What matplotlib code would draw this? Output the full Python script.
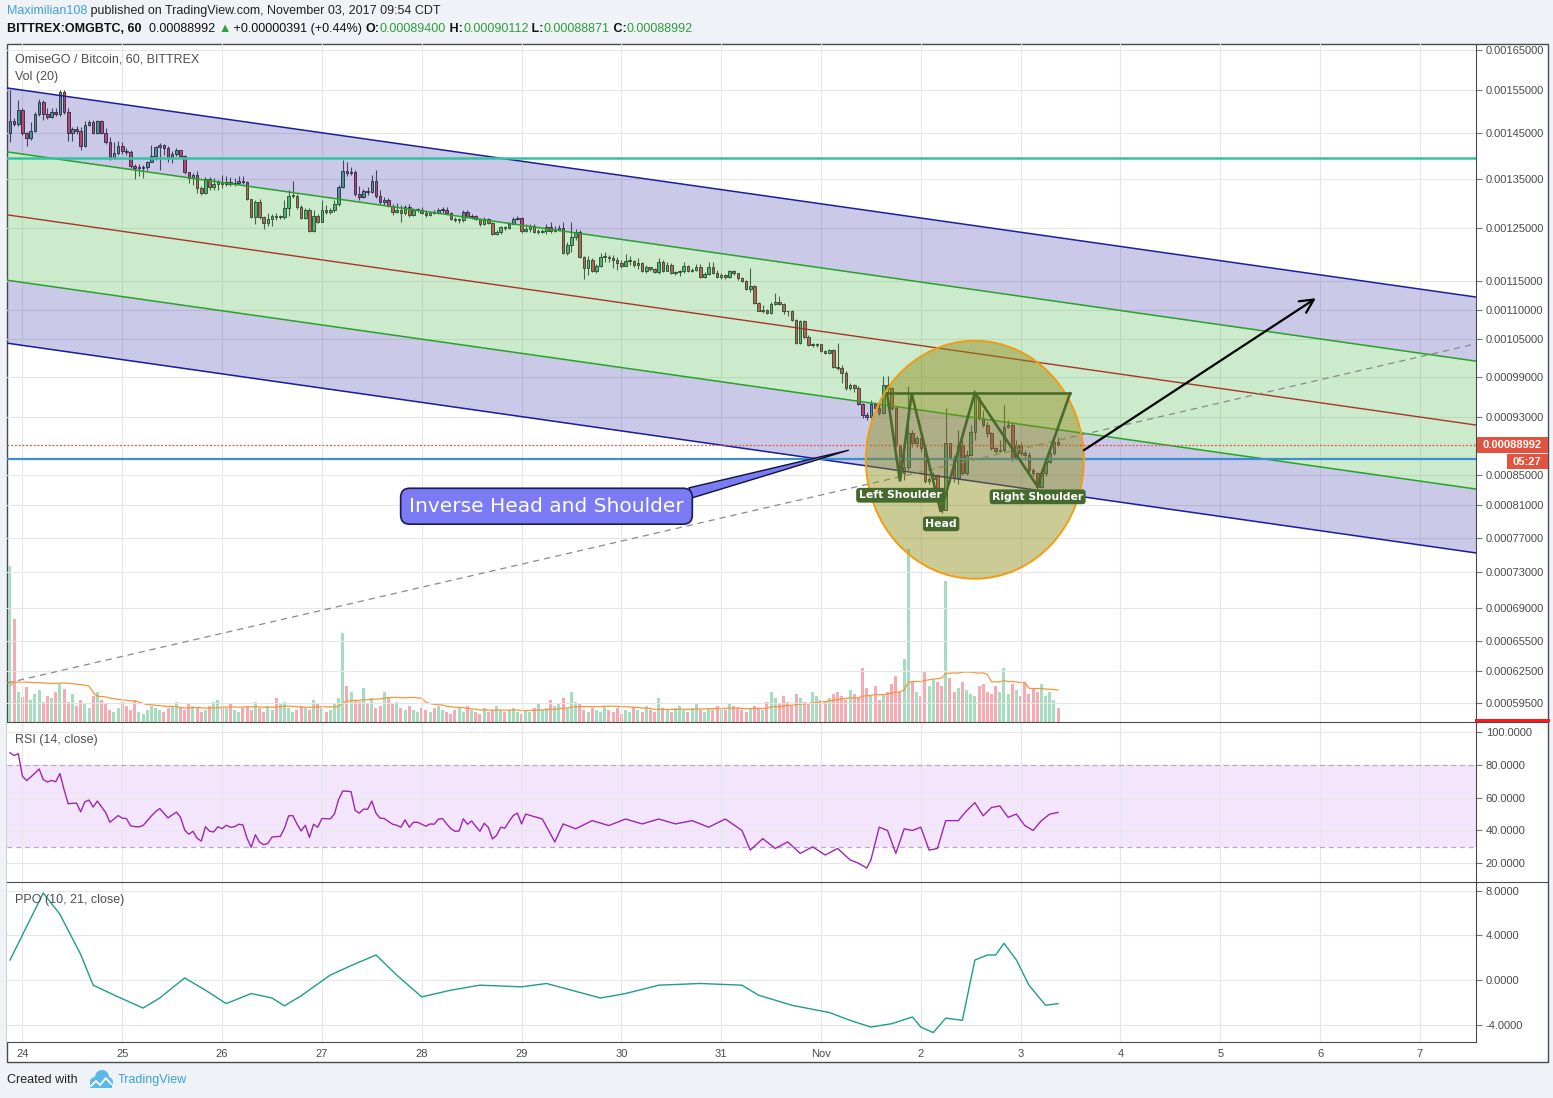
"""OMG/BTC 1h chart (TradingView snapshot, 3 Nov 2017) with an inverse head and shoulders idea."""
import matplotlib
matplotlib.use("Agg")
import matplotlib.pyplot as plt  # noqa: E402
import numpy as np
import pandas as pd
from matplotlib.lines import Line2D
from matplotlib.patches import Ellipse, Rectangle

W, H, DPI = 1553, 1098, 100
U = 1e-6  # prices below are written in micro-BTC

# ---- candles: one per hour, hours counted from Oct 24 00:00 -------------------
FIRST_HOUR = -3
OPEN0 = 1450
CLOSE = [1478, 1471, 1503, 1450, 1439, 1455, 1494, 1522, 1494, 1487, 1498, 1494, 1546,
         1498, 1450, 1459, 1455, 1421, 1468, 1475, 1450, 1478, 1450,
         1430, 1394, 1405, 1421, 1410, 1408, 1377, 1373, 1373, 1375,
         1386, 1399, 1419, 1423, 1416, 1394, 1403, 1412, 1399, 1365,
         1351, 1358, 1331, 1321, 1349, 1333, 1339, 1343, 1339, 1343,
         1339, 1341, 1345, 1343, 1308, 1272, 1302, 1272, 1260, 1268,
         1274, 1272, 1272, 1290, 1314, 1314, 1292, 1270, 1286, 1244,
         1274, 1262, 1286, 1282, 1286, 1298, 1333, 1367, 1362, 1365,
         1318, 1312, 1325, 1323, 1345, 1314, 1302, 1306, 1294, 1282,
         1286, 1280, 1292, 1276, 1286, 1286, 1280, 1276, 1282, 1280,
         1286, 1286, 1280, 1268, 1266, 1266, 1282, 1272, 1274, 1268,
         1258, 1268, 1260, 1238, 1242, 1252, 1250, 1258, 1268, 1270,
         1244, 1248, 1254, 1242, 1242, 1244, 1252, 1244, 1246, 1250,
         1202, 1218, 1233, 1242, 1195, 1174, 1189, 1168, 1178, 1195,
         1195, 1193, 1189, 1183, 1178, 1187, 1187, 1180, 1183, 1168,
         1176, 1172, 1166, 1185, 1168, 1180, 1165, 1166, 1168, 1178,
         1168, 1170, 1176, 1157, 1163, 1176, 1165, 1157, 1161, 1157,
         1168, 1165, 1156, 1150, 1136, 1141, 1112, 1098, 1100, 1095,
         1110, 1114, 1110, 1098, 1097, 1083, 1044, 1080, 1054, 1041,
         1041, 1043, 1031, 1028, 1033, 1006, 1004, 997, 973, 978,
         973, 949, 933, 930, 949, 943, 936, 978, 973, 944,
         890, 852, 860, 907, 893, 900, 886, 842, 844, 849,
         833, 804, 893, 873, 846, 890, 852, 876, 908, 958,
         929, 918, 907, 886, 882, 884, 915, 918, 871, 890,
         879, 876, 856, 852, 834, 852, 867, 879, 894, 889.92]
HIGH = [1551, 1485, 1527, 1508, 1452, 1475, 1498, 1529, 1527, 1508, 1508, 1508, 1551,
        1551, 1508, 1464, 1466, 1464, 1478, 1480, 1480, 1480, 1480,
        1462, 1441, 1430, 1432, 1430, 1416, 1412, 1382, 1382, 1380,
        1388, 1423, 1421, 1428, 1425, 1421, 1410, 1416, 1412, 1401,
        1365, 1362, 1367, 1335, 1353, 1353, 1351, 1347, 1358, 1356,
        1353, 1351, 1356, 1356, 1345, 1308, 1306, 1308, 1274, 1280,
        1278, 1280, 1276, 1306, 1327, 1345, 1318, 1296, 1290, 1290,
        1286, 1278, 1306, 1296, 1290, 1306, 1337, 1390, 1386, 1375,
        1369, 1335, 1329, 1333, 1358, 1369, 1327, 1312, 1310, 1298,
        1300, 1296, 1296, 1298, 1290, 1290, 1292, 1286, 1284, 1286,
        1290, 1292, 1292, 1282, 1272, 1270, 1286, 1286, 1278, 1276,
        1270, 1272, 1270, 1262, 1246, 1254, 1254, 1262, 1272, 1274,
        1272, 1258, 1258, 1258, 1248, 1248, 1258, 1262, 1254, 1256,
        1262, 1222, 1262, 1248, 1246, 1197, 1197, 1193, 1181, 1202,
        1204, 1199, 1199, 1195, 1189, 1200, 1197, 1189, 1193, 1185,
        1180, 1176, 1174, 1193, 1189, 1185, 1183, 1168, 1170, 1185,
        1180, 1174, 1181, 1181, 1166, 1185, 1185, 1170, 1165, 1163,
        1170, 1170, 1165, 1157, 1152, 1174, 1143, 1114, 1108, 1102,
        1114, 1129, 1124, 1112, 1098, 1099, 1085, 1083, 1083, 1057,
        1044, 1044, 1043, 1033, 1035, 1035, 1044, 1009, 999, 981,
        980, 976, 951, 937, 955, 952, 949, 992, 991, 975,
        946, 891, 897, 976, 911, 903, 903, 888, 848, 853,
        851, 834, 943, 893, 876, 911, 897, 883, 918, 967,
        961, 940, 923, 908, 888, 897, 948, 926, 923, 897,
        894, 883, 880, 859, 853, 856, 870, 886, 896, 901.12]
LOW = [1430, 1466, 1466, 1446, 1421, 1434, 1452, 1489, 1480, 1482, 1485, 1489, 1489,
       1494, 1432, 1432, 1448, 1412, 1419, 1466, 1448, 1448, 1448,
       1425, 1390, 1392, 1401, 1403, 1401, 1373, 1349, 1356, 1351,
       1369, 1386, 1390, 1369, 1401, 1386, 1384, 1399, 1394, 1360,
       1341, 1337, 1321, 1316, 1319, 1327, 1327, 1327, 1331, 1335,
       1335, 1335, 1339, 1339, 1306, 1270, 1258, 1268, 1248, 1254,
       1254, 1266, 1268, 1268, 1274, 1310, 1288, 1268, 1268, 1242,
       1242, 1260, 1262, 1278, 1278, 1282, 1294, 1331, 1356, 1358,
       1314, 1306, 1310, 1316, 1321, 1310, 1298, 1296, 1292, 1276,
       1280, 1262, 1276, 1272, 1274, 1282, 1278, 1272, 1274, 1278,
       1278, 1280, 1278, 1266, 1262, 1260, 1262, 1270, 1268, 1266,
       1254, 1256, 1258, 1237, 1237, 1238, 1246, 1248, 1256, 1266,
       1240, 1242, 1242, 1240, 1238, 1240, 1238, 1240, 1242, 1244,
       1200, 1198, 1204, 1227, 1193, 1154, 1161, 1166, 1165, 1176,
       1185, 1185, 1174, 1170, 1174, 1178, 1180, 1176, 1172, 1166,
       1165, 1168, 1165, 1163, 1166, 1168, 1163, 1161, 1159, 1165,
       1166, 1166, 1168, 1156, 1156, 1161, 1163, 1156, 1154, 1154,
       1156, 1161, 1152, 1148, 1134, 1131, 1110, 1097, 1095, 1093,
       1093, 1109, 1109, 1093, 1090, 1081, 1043, 1043, 1052, 1039,
       1038, 1038, 1030, 1027, 1027, 1004, 1001, 981, 970, 970,
       967, 948, 929, 926, 929, 940, 933, 934, 967, 940,
       887, 846, 843, 856, 888, 888, 880, 839, 838, 842,
       830, 800, 804, 870, 840, 838, 849, 849, 875, 897,
       926, 915, 902, 883, 879, 880, 880, 914, 868, 870,
       875, 870, 853, 848, 831, 833, 848, 866, 876, 888.71]
VOLUME = [156, 103, 30, 25, 35, 22, 28, 32, 20, 26,
          24, 30, 38, 33, 20, 28, 16, 22, 18, 14,
          26, 30, 22, 18, 12, 10, 14, 20, 16, 12,
          22, 10, 8, 12, 16, 14, 12, 10, 14, 16,
          20, 14, 12, 18, 16, 14, 10, 12, 16, 20,
          22, 16, 14, 18, 12, 10, 14, 16, 12, 20,
          14, 10, 16, 12, 24, 18, 20, 14, 10, 12,
          16, 14, 12, 22, 18, 14, 10, 12, 18, 24,
          89, 36, 30, 22, 20, 34, 18, 24, 14, 16,
          30, 24, 18, 20, 14, 12, 16, 12, 10, 14,
          12, 10, 14, 16, 12, 10, 8, 12, 14, 10,
          16, 12, 10, 8, 14, 10, 12, 16, 12, 10,
          12, 14, 10, 8, 12, 10, 14, 18, 12, 14,
          22, 16, 18, 24, 14, 30, 20, 18, 12, 10,
          14, 12, 10, 16, 12, 10, 14, 8, 12, 10,
          14, 12, 10, 16, 12, 10, 24, 14, 12, 10,
          14, 16, 12, 10, 14, 18, 12, 10, 14, 12,
          16, 14, 12, 18, 16, 14, 12, 10, 14, 16,
          14, 12, 20, 30, 24, 18, 26, 20, 16, 28,
          24, 20, 18, 30, 26, 22, 20, 24, 28, 30,
          26, 22, 32, 28, 24, 54, 34, 26, 36, 22,
          28, 30, 38, 46, 30, 63, 173, 40, 30, 26,
          50, 36, 42, 40, 36, 141, 44, 30, 34, 40,
          32, 28, 26, 36, 38, 30, 28, 36, 30, 54,
          28, 38, 32, 26, 40, 28, 34, 30, 38, 26,
          30, 22, 14]
VOL_PRIOR_AVG = 30  # mean hourly volume before the first bar (left end of the MA line)

# ---- indicators, read at candle index (0 = first candle) ----------------------
RSI_BARS = list(range(124)) + [124, 128, 131, 133, 136, 140, 144, 148, 152, 156, 160, 164,
                               168, 172, 176, 178, 181, 184, 187, 190, 193, 196, 199, 202,
                               204, 206, 207, 209, 211, 213, 215, 217, 219, 221, 223, 225,
                               228, 230, 232, 234, 236, 238, 240, 242, 244, 246, 248, 250, 252]
RSI_VALS = [87.5, 85.8, 86.9, 73.1, 70.5, 72.7, 75.0, 77.6, 71.1, 69.6,
            70.6, 69.8, 74.8, 65.0, 56.3, 56.6, 56.7, 51.4, 57.5, 58.6,
            54.3, 58.0, 54.5, 51.0, 45.0, 47.0, 49.1, 47.5, 47.3, 42.8,
            42.4, 42.2, 43.0, 46.0, 48.9, 51.5, 53.4, 50.5, 47.7, 49.5,
            51.2, 48.1, 40.3, 37.7, 39.5, 35.2, 33.5, 42.3, 39.5, 39.1,
            42.3, 41.1, 43.2, 42.0, 42.3, 43.8, 43.4, 35.2, 29.7, 37.4,
            32.9, 31.3, 32.1, 36.0, 36.2, 36.4, 41.4, 48.9, 49.1, 44.0,
            39.7, 43.2, 35.8, 43.8, 42.0, 47.3, 47.2, 47.1, 50.0, 58.8,
            64.1, 64.0, 63.7, 52.2, 50.6, 53.0, 53.0, 58.0, 50.6, 47.5,
            47.3, 45.5, 43.8, 43.2, 42.0, 46.5, 42.0, 45.0, 45.0, 43.8,
            42.6, 44.0, 43.8, 46.9, 47.3, 44.0, 41.1, 39.5, 39.7, 47.1,
            43.8, 45.8, 42.5, 39.5, 44.4, 42.0, 34.8, 37.0, 42.0, 41.4,
            45.5, 49.1, 50.6, 44.0,
            50, 47, 33, 44, 41, 46, 43, 47, 44, 47, 44, 46,
            42, 47, 40, 28, 35, 29, 33, 26, 30, 25, 29, 22,
            20, 17, 22, 42, 40, 26, 41, 40, 42, 28, 29, 46,
            46, 52, 57, 49, 54, 55, 48, 50, 43, 40, 46, 50, 51]
PPO_BARS = [0, 8, 12, 17, 20, 26, 32, 36, 42, 47, 52, 58, 63, 66, 70, 77, 82, 88, 93, 99,
            106, 113, 123, 129, 135, 142, 148, 156, 166, 176, 180, 188, 197, 202, 207,
            212, 217, 219, 222, 225, 229, 232, 235, 237, 239, 242, 245, 249, 252]
PPO_VALS = [1.8, 7.8, 5.9, 2.3, -0.45, -1.5, -2.5, -1.6, 0.2, -0.9, -2.1, -1.2, -1.6, -2.3,
            -1.4, 0.45, 1.3, 2.25, 0.45, -1.5, -0.9, -0.45, -0.6, -0.3, -0.9, -1.6, -1.2,
            -0.45, -0.3, -0.45, -1.35, -2.25, -2.9, -3.6, -4.2, -3.9, -3.3, -4.2, -4.7,
            -3.4, -3.6, 1.8, 2.25, 2.25, 3.3, 1.8, -0.45, -2.25, -2.1]

DAY_HOURS = list(range(0, 337, 24))
DAY_LABELS = ["24", "25", "26", "27", "28", "29", "30", "31", "Nov", "2", "3", "4", "5", "6", "7"]
PRICE_TICKS = [0.00165, 0.00155, 0.00145, 0.00135, 0.00125, 0.00115, 0.0011, 0.00105,
               0.00099, 0.00093, 0.00085, 0.00081, 0.00077, 0.00073, 0.00069,
               0.000655, 0.000625, 0.000595]
RSI_TICKS = [100, 80, 60, 40, 20]
PPO_TICKS = [8, 4, 0, -4]

# ---- drawings on the chart: (hour, micro-BTC) ----------------------------------
X_RANGE = (-3.72, 349.5)
CHAN_BLUE = [(1556, 1122), (1044, 752)]
CHAN_GREEN = [(1408, 1015), (1152, 831)]
CHAN_MID = (1276, 918.5)
RESIST = 1394.5
SUPPORT = 870.9
DASH_TREND = (613.6, 1043)
PATTERN_HOURS = [207.9, 211.0, 213.8, 220.8, 229.0, 244.0, 251.9]
PATTERN_PRICES = [965, 841, 965, 802, 966, 835, 965]
PATTERN_LABELS = [("Left Shoulder", 211.0, 823), ("Head", 220.9, 787),
                  ("Right Shoulder", 244.1, 821)]
CALLOUT_TEXT = (126.0, 809)
CALLOUT_BASE = (160.6, 826)
CALLOUT_TIP = (198.6, 883)
ARROW = [(255.2, 883), (311.0, 1120)]
CIRCLE_C = (229.0, 870)
CIRCLE_RX_H = 26.2       # hours
CIRCLE_RY_FRAC = 0.1755  # fraction of the price panel height

SANS = ["Liberation Sans", "DejaVu Sans"]
plt.rcParams["font.family"] = SANS
GRID = "#e6e6e6"
AXTXT = "#4a4a4a"
GREEN_TXT = "#2e9e3e"
HDR = 9.0


def frect(x0, y0, x1, y1):
    return [x0 / W, 1 - y1 / H, (x1 - x0) / W, (y1 - y0) / H]


def fline(x0, y0, x1, y1, **kw):
    fig.add_artist(Line2D([x0 / W, x1 / W], [1 - y0 / H, 1 - y1 / H],
                          transform=fig.transFigure, **kw))


def text_run(x, y, parts, size, family=SANS):
    r = fig.canvas.get_renderer()
    for s, color, weight in parts:
        t = fig.text(x / W, 1 - y / H, s, color=color, fontsize=size, fontweight=weight,
                     family=family, va="center", ha="left")
        x += t.get_window_extent(renderer=r).width
    return x


fig = plt.figure(figsize=(W / DPI, H / DPI), dpi=DPI, facecolor="#eff2f6")
fig.add_artist(Rectangle((7 / W, 1 - 1062 / H), 1541 / W, 1018 / H, transform=fig.transFigure,
                         facecolor="white", edgecolor="#4a4a4a", lw=1, zorder=-5))

axv = fig.add_axes(frect(7, 44, 1476, 722))
ax = fig.add_axes(frect(7, 44, 1476, 722), sharex=axv)
ar = fig.add_axes(frect(7, 722, 1476, 882), sharex=axv)
ap = fig.add_axes(frect(7, 882, 1476, 1042), sharex=axv)
ax.patch.set_alpha(0)
axv.patch.set_alpha(0)

xs = np.arange(len(CLOSE)) + FIRST_HOUR
c = np.array(CLOSE, float) * U
o = np.r_[OPEN0, CLOSE[:-1]].astype(float) * U
hi = np.maximum(np.array(HIGH, float) * U, np.maximum(o, c))
lo = np.minimum(np.array(LOW, float) * U, np.minimum(o, c))
up = c >= o

# volume (own scale, behind the price)
axv.bar(xs, VOLUME, width=0.72, color=np.where(up, "#a6dcc0", "#f6aab2"), linewidth=0)
vol_hist = pd.Series([VOL_PRIOR_AVG] * 19 + VOLUME, dtype=float)
vma = vol_hist.rolling(20).mean().to_numpy()[19:]
axv.plot(xs, vma, color="#f7953a", lw=0.9)
axv.set_ylim(0, max(VOLUME) / 0.255)
axv.set_yticks([])

# price
ax.set_yscale("log")
ax.set_xlim(*X_RANGE)
ax.set_ylim(577.3 * U, 1666.7 * U)
ax.vlines(xs, lo, hi, color="#4d4d4d", lw=0.8, zorder=1)
body_lo = np.minimum(o, c)
body_h = np.maximum(np.abs(c - o), body_lo * 0.0012)
ax.bar(xs, body_h, bottom=body_lo, width=0.62, color=np.where(up, "#53b987", "#eb4d5c"),
       edgecolor="#262626", linewidth=0.6, zorder=1.2)

hx = list(X_RANGE)
blue_top, blue_bot = [np.array(v) * U for v in CHAN_BLUE]
green_top, green_bot = [np.array(v) * U for v in CHAN_GREEN]
ax.fill_between(hx, blue_top, green_top, color="#2f2fa7", alpha=0.25, lw=0, zorder=2)
ax.fill_between(hx, green_top, green_bot, color="#37af37", alpha=0.25, lw=0, zorder=2)
ax.fill_between(hx, green_bot, blue_bot, color="#2f2fa7", alpha=0.25, lw=0, zorder=2)
for line in (blue_top, blue_bot):
    ax.plot(hx, line, color="#1c1c9c", lw=1.1, zorder=3)
for line in (green_top, green_bot):
    ax.plot(hx, line, color="#27a327", lw=1.1, zorder=3)
ax.plot(hx, np.array(CHAN_MID) * U, color="#a8352b", lw=1.0, zorder=3)
ax.axhline(RESIST * U, color="#33c3a0", lw=1.8, zorder=3)
ax.axhline(SUPPORT * U, color="#3a8fd0", lw=1.6, zorder=3)
ax.axhline(c[-1], color="#e0533f", lw=0.9, ls=(0, (1.5, 1.5)), zorder=3)
ax.plot(hx, np.array(DASH_TREND) * U, color="#8a8a8a", lw=0.9, ls=(0, (5, 4)), zorder=3)

# pattern circle (screen-space ellipse anchored on the data centre)
cx, cy = ax.transAxes.inverted().transform(ax.transData.transform((CIRCLE_C[0], CIRCLE_C[1] * U)))
span = X_RANGE[1] - X_RANGE[0]
ax.add_patch(Ellipse((cx, cy), 2 * CIRCLE_RX_H / span, 2 * CIRCLE_RY_FRAC, transform=ax.transAxes,
                     facecolor="#8c8c14", alpha=0.45, edgecolor="none", zorder=4))
ax.add_patch(Ellipse((cx, cy), 2 * CIRCLE_RX_H / span, 2 * CIRCLE_RY_FRAC, transform=ax.transAxes,
                     facecolor="none", edgecolor="#f39c12", lw=1.4, zorder=4.1))
pp = np.array(PATTERN_PRICES) * U
ax.plot(PATTERN_HOURS, pp, color="#4a6b2c", lw=1.9, zorder=5, solid_joinstyle="miter")
ax.plot([PATTERN_HOURS[0], PATTERN_HOURS[-1]], [pp[0], pp[-1]], color="#4a6b2c", lw=1.9, zorder=5)
for s, hh, pr in PATTERN_LABELS:
    ax.text(hh, pr * U, s, color="white", fontsize=7.8, fontweight="bold", family="DejaVu Sans",
            ha="center", va="center", zorder=6,
            bbox=dict(boxstyle="round,pad=0.22,rounding_size=0.3", fc="#456a2e", ec="none"))

ax.annotate("", xy=(CALLOUT_TIP[0], CALLOUT_TIP[1] * U), xytext=(CALLOUT_BASE[0], CALLOUT_BASE[1] * U),
            arrowprops=dict(arrowstyle="wedge,tail_width=0.42,shrink_factor=0.5",
                            fc="#7b7bf5", ec="#111133", lw=1.0, mutation_scale=18,
                            shrinkA=0, shrinkB=0), zorder=6)
ax.text(CALLOUT_TEXT[0], CALLOUT_TEXT[1] * U, "Inverse Head and Shoulder", color="white",
        fontsize=14.5, family="DejaVu Sans", ha="center", va="center", zorder=7,
        bbox=dict(boxstyle="round,pad=0.42,rounding_size=0.45", fc="#7b7bf5", ec="#1b1b55", lw=1.2))
ax.annotate("", xy=(ARROW[1][0], ARROW[1][1] * U), xytext=(ARROW[0][0], ARROW[0][1] * U),
            arrowprops=dict(arrowstyle="->,head_length=0.7,head_width=0.35", color="black",
                            lw=1.6, shrinkA=0, shrinkB=0, mutation_scale=14), zorder=6)

# RSI
ar.set_ylim(8.5, 106.3)
ar.axhspan(30, 80, color="#f3e6fc", lw=0, zorder=0)
for lv in (80, 30):
    ar.axhline(lv, color="#b9a7c6", lw=0.9, ls=(0, (4, 3)), zorder=1)
ar.plot(np.array(RSI_BARS) + FIRST_HOUR, RSI_VALS, color="#9c27b0", lw=1.0, zorder=3)

# PPO
ap.set_ylim(-5.54, 8.79)
ap.plot(np.array(PPO_BARS) + FIRST_HOUR, PPO_VALS, color="#1e9e8a", lw=1.0, zorder=3)

# axes cosmetics
ax.set_yticks(PRICE_TICKS, [f"{v:.8f}" for v in PRICE_TICKS])
ax.yaxis.set_minor_locator(matplotlib.ticker.NullLocator())
ar.set_yticks(RSI_TICKS, [f"{v:.4f}" for v in RSI_TICKS])
ap.set_yticks(PPO_TICKS, [f"{v:.4f}" for v in PPO_TICKS])
ap.set_xticks(DAY_HOURS, DAY_LABELS)
for a in (axv, ax, ar, ap):
    for sp in a.spines.values():
        sp.set_visible(False)
for a in (ax, ar, ap):
    a.set_axisbelow(True)
    a.grid(True, color=GRID, lw=0.8)
    a.yaxis.tick_right()
    a.tick_params(axis="y", length=4, width=0.8, color="#777777", pad=3,
                  labelsize=8, labelcolor=AXTXT)
    a.tick_params(axis="x", length=0, pad=5, labelsize=8, labelcolor=AXTXT,
                  labelbottom=(a is ap))
axv.tick_params(axis="both", length=0, labelbottom=False, labelleft=False)

# panel frame lines
for y in (722, 882):
    fline(7, y, 1548, y, color="#4a4a4a", lw=0.8, zorder=10)
fline(7, 1042, 1476, 1042, color="#4a4a4a", lw=0.8, zorder=10)
fline(1476, 44, 1476, 1042, color="#4a4a4a", lw=0.8, zorder=10)
fline(1476, 720, 1548, 720, color="#ff1a1a", lw=2.2, zorder=11)

# last price tag on the scale
yd = H - ax.transData.transform((0, c[-1]))[1]
fig.add_artist(Rectangle((1477 / W, 1 - (yd + 8) / H), 71 / W, 16 / H, transform=fig.transFigure,
                         fc="#e2533f", ec="none", zorder=12))
fig.text(1512 / W, 1 - yd / H, f"{c[-1]:.8f}", color="white", fontsize=8,
         fontweight="bold", ha="center", va="center", zorder=13)
fig.add_artist(Rectangle((1507 / W, 1 - (yd + 24) / H), 41 / W, 15 / H, transform=fig.transFigure,
                         fc="#e2533f", ec="none", zorder=12))
fig.text(1527 / W, 1 - (yd + 16.5) / H, "05:27", color="white", fontsize=8, fontweight="bold",
         ha="center", va="center", zorder=13)

# legends inside panels
for y, s in ((60, "OmiseGO / Bitcoin, 60, BITTREX"), (77, "Vol (20)"),
             (740, "RSI (14, close)"), (900, "PPO (10, 21, close)")):
    fig.text(15 / W, 1 - y / H, s, color="#4f4f4f", fontsize=HDR,
             va="center", ha="left", zorder=14)

# header
text_run(7, 11, [("Maximilian108", "#3ea0db", "normal"),
                 (" published on TradingView.com, November 03, 2017 09:54 CDT", "#222222", "normal")], HDR)
text_run(7, 29, [("BITTREX:OMGBTC, 60", "#111111", "bold"), ("  0.00088992 ", "#111111", "normal"),
                 ("\u25b2", GREEN_TXT, "normal"), (" +0.00000391 (+0.44%) ", "#111111", "normal"),
                 ("O:", "#111111", "bold"), ("0.00089400", GREEN_TXT, "normal"),
                 (" H:", "#111111", "bold"), ("0.00090112", GREEN_TXT, "normal"),
                 (" L:", "#111111", "bold"), ("0.00088871", GREEN_TXT, "normal"),
                 (" C:", "#111111", "bold"), ("0.00088992", GREEN_TXT, "normal")], HDR)

# footer
text_run(7, 1080, [("Created with", "#222222", "normal")], HDR)
for (ex, ey, r) in ((95, 1082, 5), (102, 1077, 7), (108, 1082, 5)):
    fig.add_artist(Ellipse((ex / W, 1 - ey / H), 2 * r / W, 2 * r / H, transform=fig.transFigure,
                           fc="#5cb8ea", ec="none"))
fig.add_artist(Rectangle((90 / W, 1 - 1088 / H), 22 / W, 6 / H, transform=fig.transFigure,
                         fc="#5cb8ea", ec="none"))
fig.add_artist(Line2D(np.array([91, 96, 100, 106, 111]) / W, 1 - np.array([1086, 1081, 1085, 1078, 1084]) / H,
                      transform=fig.transFigure, color="white", lw=1.3))
text_run(118, 1080, [("TradingView", "#3ba2dc", "normal")], HDR)

fig.savefig("out.png", dpi=DPI)
